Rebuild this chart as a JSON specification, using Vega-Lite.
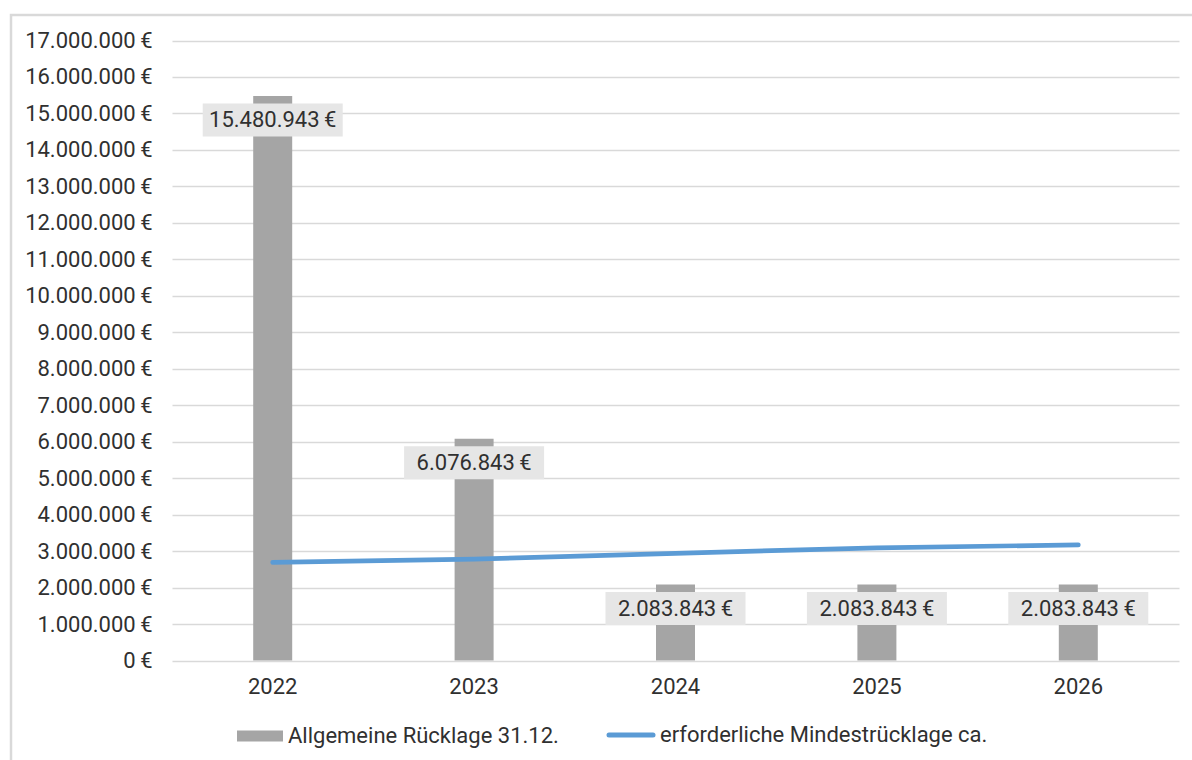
{
  "$schema": "https://vega.github.io/schema/vega-lite/v6.json",
  "width": 1185,
  "height": 749,
  "autosize": {"type": "none"},
  "padding": {"left": 11, "top": 15, "right": -4, "bottom": -4},
  "background": "white",
  "config": {
    "font": "Roboto",
    "view": {"stroke": "#d9d9d9", "strokeWidth": 2.5},
    "locale": {
      "number": {
        "decimal": ",",
        "thousands": ".",
        "grouping": [3],
        "currency": ["", "\u2009€"]
      }
    },
    "legend": {
      "labelFont": "Roboto",
      "labelFontSize": 22,
      "labelColor": "#303030",
      "labelLimit": 0,
      "padding": 0,
      "title": null
    }
  },
  "data": {
    "values": [
      {"jahr": "2022", "reihe": "Allgemeine Rücklage 31.12.", "wert": 15480943},
      {"jahr": "2023", "reihe": "Allgemeine Rücklage 31.12.", "wert": 6076843},
      {"jahr": "2024", "reihe": "Allgemeine Rücklage 31.12.", "wert": 2083843},
      {"jahr": "2025", "reihe": "Allgemeine Rücklage 31.12.", "wert": 2083843},
      {"jahr": "2026", "reihe": "Allgemeine Rücklage 31.12.", "wert": 2083843},
      {"jahr": "2022", "reihe": "erforderliche Mindestrücklage ca.", "wert": 2690000},
      {"jahr": "2023", "reihe": "erforderliche Mindestrücklage ca.", "wert": 2780000},
      {"jahr": "2024", "reihe": "erforderliche Mindestrücklage ca.", "wert": 2940000},
      {"jahr": "2025", "reihe": "erforderliche Mindestrücklage ca.", "wert": 3090000},
      {"jahr": "2026", "reihe": "erforderliche Mindestrücklage ca.", "wert": 3170000}
    ]
  },
  "encoding": {
    "x": {
      "field": "jahr",
      "type": "ordinal",
      "scale": {"range": [161, 1168], "paddingInner": 0, "paddingOuter": 0},
      "axis": {
        "title": null,
        "orient": "bottom",
        "offset": -103.5,
        "domain": false,
        "ticks": false,
        "grid": false,
        "labelAngle": 0,
        "labelFont": "Roboto",
        "labelFontSize": 22,
        "labelColor": "#303030",
        "labelPadding": 16
      }
    },
    "y": {
      "field": "wert",
      "type": "quantitative",
      "scale": {"domain": [0, 17000000], "range": [645.5, 25.5], "nice": false},
      "axis": {
        "title": null,
        "orient": "left",
        "offset": -161,
        "domain": false,
        "ticks": false,
        "grid": true,
        "gridColor": "#d9d9d9",
        "gridWidth": 1.5,
        "values": [0, 1000000, 2000000, 3000000, 4000000, 5000000, 6000000, 7000000, 8000000, 9000000, 10000000, 11000000, 12000000, 13000000, 14000000, 15000000, 16000000, 17000000],
        "format": "$,.0f",
        "labelFont": "Roboto",
        "labelFontSize": 22,
        "labelColor": "#303030",
        "labelPadding": 20
      }
    }
  },
  "layer": [
    {
      "transform": [{"filter": "datum.reihe === 'Allgemeine Rücklage 31.12.'"}],
      "mark": {"type": "bar", "size": 39},
      "encoding": {
        "fill": {
          "field": "reihe",
          "type": "nominal",
          "scale": {"range": ["#a5a5a5"]},
          "legend": {
            "orient": "none",
            "legendX": 226,
            "legendY": 698,
            "symbolType": "M-1,-0.24H1V0.24H-1Z",
            "symbolSize": 2116,
            "symbolStrokeWidth": 0,
            "labelOffset": 5
          }
        }
      }
    },
    {
      "transform": [{"filter": "datum.reihe === 'erforderliche Mindestrücklage ca.'"}],
      "mark": {"type": "line", "strokeWidth": 4.7, "strokeCap": "round", "strokeJoin": "round"},
      "encoding": {
        "stroke": {
          "field": "reihe",
          "type": "nominal",
          "scale": {"range": ["#5b9bd5"]},
          "legend": {
            "orient": "none",
            "legendX": 595.5,
            "legendY": 695.5,
            "symbolType": "stroke",
            "symbolSize": 1936,
            "symbolStrokeWidth": 5,
            "labelOffset": 4.5,
            "encode": {"symbols": {"update": {"strokeCap": {"value": "round"}}}}
          }
        }
      }
    },
    {
      "transform": [{"filter": "datum.reihe === 'Allgemeine Rücklage 31.12.'"}],
      "mark": {"type": "tick", "color": "#e6e6e6", "opacity": 1, "size": 140, "thickness": 33, "yOffset": 24, "orient": "horizontal"}
    },
    {
      "transform": [{"filter": "datum.reihe === 'Allgemeine Rücklage 31.12.'"}],
      "mark": {"type": "text", "font": "Roboto", "fontSize": 22, "color": "#303030", "baseline": "middle", "align": "center", "yOffset": 24},
      "encoding": {
        "text": {"field": "wert", "type": "quantitative", "format": "$,.0f"}
      }
    }
  ]
}
